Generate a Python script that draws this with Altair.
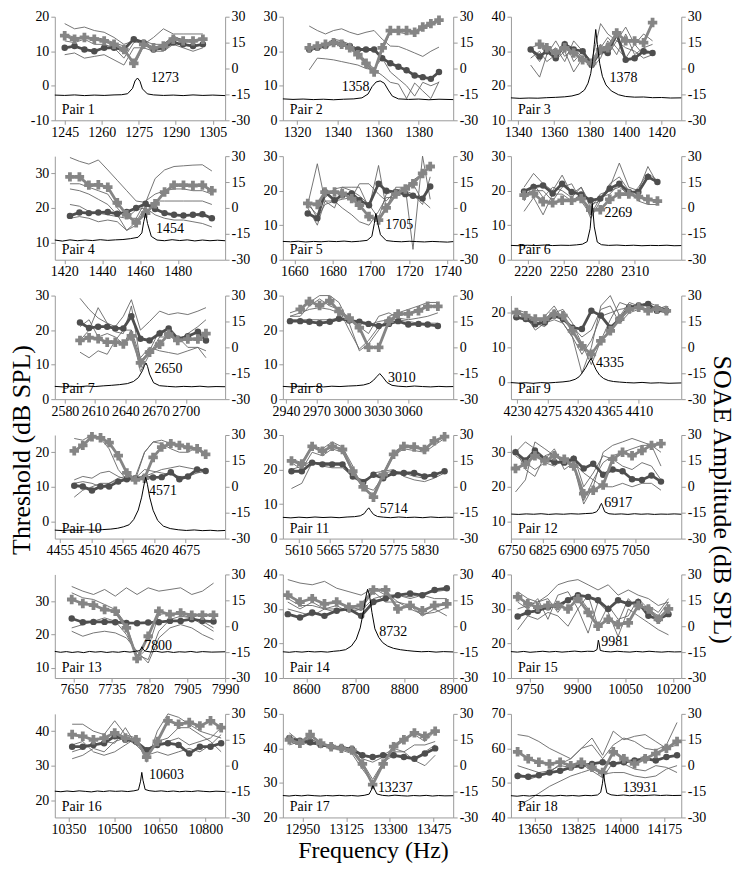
import altair as alt
import pandas as pd

FONT = "Liberation Serif"
W, H = 171, 104
AX = "#9a9a9a"
GREY_C = "#666666"
CIRC_C = "#4e4e4e"
PLUS_C = "#858585"

# ---------------- Pair 1 ----------------
XD1 = [1241, 1310]; XT1 = [1245, 1260, 1275, 1290, 1305]; YD1 = [-10, 20]; YT1 = [-10, 0, 10, 20]
F1 = [1245, 1249, 1253, 1257, 1261, 1265, 1269, 1273, 1277, 1281, 1285, 1289, 1293, 1297, 1301]
C1 = [11, 11.5, 10.5, 10, 11, 11, 10.5, 13.5, 12.5, 10.5, 11, 12.5, 12, 11.5, 12]
P1 = [14.5, 13.5, 14, 13.5, 13, 12, 10.5, 6.5, 12, 11, 11.5, 13.5, 13, 13, 13.5]
G1 = [[18, 16.5, 17, 16, 15.5, 14, 12, 13, 12, 14, 16.5, 15, 15, 15, 15],
      [9, 9.5, 8, 8.5, 9, 7.5, 6, 11, 11, 10, 10, 12, 11, 10, 11],
      [13, 12.5, 13.5, 12, 12, 11, 8, 12.5, 13, 12, 12, 14.5, 13, 12.5, 13.5],
      [15, 14, 14, 14, 13.5, 12.5, 11.5, 5.5, 11.5, 11, 12, 14, 13.5, 13, 14]]
SF1 = [1241, 1245, 1249, 1253, 1257, 1261, 1265, 1268, 1270.5, 1272.5, 1273.5, 1274.5, 1275.5, 1276.5, 1278.5, 1281, 1285, 1289, 1293, 1297, 1301, 1305, 1310]
SA1 = [-15.4, -15.6, -15.3, -15.7, -15.4, -15.6, -15.3, -15.2, -14.6, -11.5, -7.2, -5.5, -7.4, -11.8, -14.7, -15.3, -15.6, -15.4, -15.7, -15.3, -15.6, -15.4, -15.7]
LB1 = [1280, -5.5, "1273"]

# ---------------- Pair 2 ----------------
XD2 = [1313, 1397]; XT2 = [1320, 1340, 1360, 1380]; YD2 = [0, 30]; YT2 = [0, 10, 20, 30]
F2 = [1326, 1330, 1334, 1338, 1342, 1346, 1350, 1354, 1358, 1362, 1366, 1370, 1374, 1378, 1382, 1386, 1390]
C2 = [20.5, 21, 21.5, 22.5, 22, 21.5, 20.5, 20.5, 20.5, 18, 16.5, 15.5, 14.5, 13, 12.5, 12, 14]
P2 = [21, 21.5, 22, 22.5, 22, 21, 19, 16.5, 14, 21, 26, 26, 26, 25.5, 27, 28, 29]
G2 = [[27.3, 26, 25, 26, 26.5, 25.5, 24.8, 25.5, 26, 23.5, 21.5, 21.4, 20.5, 19.5, 18.5, 20, 21.2],
      [14.6, 18, 17.8, 17.5, 17, 16.5, 16, 15, 14.6, 13, 11, 10.5, 6.3, 10.8, 8.5, 6.3, 11.2],
      [21, 21.5, 22, 23.5, 23, 22, 20, 17, 15, 18, 14, 12, 10, 7, 11, 10, 11],
      [20, 21, 22, 23, 22.5, 21.5, 20, 15.5, 14, 20, 25.5, 25.5, 25, 25, 26.5, 27.5, 28.5]]
SF2 = [1313, 1318, 1323, 1328, 1333, 1338, 1343, 1348, 1352, 1355, 1357, 1359, 1361, 1363, 1365, 1367, 1370, 1375, 1380, 1385, 1390, 1397]
SA2 = [-17.6, -17.9, -17.7, -18.0, -17.8, -18.1, -17.8, -17.6, -17.0, -14.8, -10.5, -7.8, -7.2, -8.5, -12.5, -16.0, -17.6, -17.9, -17.7, -18.1, -17.8, -18.0]
LB2 = [1342, -10.5, "1358"]

# ---------------- Pair 3 ----------------
XD3 = [1336, 1431]; XT3 = [1340, 1360, 1380, 1400, 1420]; YD3 = [10, 40]; YT3 = [10, 20, 30, 40]
F3 = [1347, 1352, 1356, 1361, 1366, 1371, 1376, 1381, 1386, 1390, 1395, 1400, 1405, 1410, 1415]
C3 = [30.5, 28.5, 30, 28, 32, 30.5, 30, 26, 30, 29.5, 35, 27.5, 28, 30, 29.5]
P3 = [None, 32, 31, 29.5, 31, 29.5, 27.5, 26.5, 30.5, 31, 35.3, 33, 33, 32.5, 38.3]
G3 = [[26, 22.5, 29, 31, 27, 33, 30, 27, 38, 35, 33, 37, 32, 35, 33],
      [31, 32, 29, 33, 28.5, 31, 28, 25, 28, 33, 29, 35, 29, 31, 32],
      [28, 30, 27, 29, 33, 27, 30, 27, 32, 29, 33, 31, 30, 28, 29],
      [30.5, 27, 31, 27.5, 30, 24, 28, 25.5, 31, 34, 31, 28, 32, 29, 30]]
SF3 = [1336, 1341, 1346, 1351, 1356, 1361, 1366, 1370, 1374, 1377, 1379, 1380.5, 1381.5, 1382.5, 1383.3, 1384.2, 1385.5, 1387, 1389, 1392, 1396, 1400, 1405, 1410, 1415, 1420, 1425, 1431]
SA3 = [-17.0, -17.3, -17.1, -17.2, -16.9, -16.7, -16.4, -15.9, -14.8, -12.5, -8.5, -3.0, 4.0, 14.0, 22.6, 14.0, 3.0, -4.5, -9.5, -13.0, -15.2, -16.2, -16.6, -16.5, -16.9, -16.8, -17.1, -17.0]
LB3 = [1391, -5.6, "1378"]

# ---------------- Pair 4 ----------------
XD4 = [1415, 1505]; XT4 = [1420, 1440, 1460, 1480]; YD4 = [5, 35]; YT4 = [10, 20, 30]
F4 = [1423, 1428, 1433, 1438, 1443, 1448, 1453, 1458, 1463, 1468, 1473, 1478, 1483, 1488, 1493, 1498]
C4 = [17.7, 18.7, 18.5, 18.7, 18.8, 18.3, 18.8, 20, 21.2, 19.7, 18.5, 18, 17.8, 18, 18.2, 17]
P4 = [29, 29, 26.6, 26.7, 26, 21.5, 18, 15.7, 18.5, 21.2, 24.6, 26.6, 26.6, 26.5, 26.6, 25]
G4 = [[34.6, 33.5, 32.7, 33.9, 31, 28, 25, 22, 21.6, 28.5, 31, 32, 32.2, 32.4, 32.5, 30.7],
      [27, 27, 26, 25, 24, 20, 17, 17, 22, 24, 25, 25.5, 25.5, 25, 25, 24],
      [25.5, 25, 24, 22.5, 21, 18, 13.5, 15, 20, 22, 22, 22, 22, 22, 22, 21],
      [21, 20.5, 19, 18.5, 18, 17.5, 17, 19.5, 20, 18, 17, 16.5, 16.5, 16, 15.5, 14.5],
      [17, 17.5, 17, 16, 16.5, 16, 13.5, 16, 20.5, 20, 18.5, 18, 18, 18, 17.5, 17.5]]
SF4 = [1415, 1419, 1423, 1427, 1431, 1435, 1439, 1443, 1447, 1451, 1455, 1459, 1461, 1462, 1463, 1464, 1466, 1469, 1473, 1477, 1481, 1485, 1489, 1493, 1497, 1501, 1505]
SA4 = [-18.6, -19.2, -18.5, -19.0, -18.6, -18.9, -18.4, -18.8, -18.5, -18.3, -17.8, -17.0, -14.5, -8.0, -3.2, -9.0, -16.5, -18.6, -19.0, -18.4, -18.9, -18.5, -19.1, -18.6, -19.0, -18.7, -19.0]
LB4 = [1468.5, -12.4, "1454"]

# ---------------- Pair 5 ----------------
XD5 = [1654, 1743]; XT5 = [1660, 1680, 1700, 1720, 1740]; YD5 = [0, 30]; YT5 = [0, 10, 20, 30]
F5 = [1667, 1672, 1676, 1681, 1685, 1690, 1694, 1699, 1704, 1708, 1713, 1718, 1722, 1727, 1731]
C5 = [13.4, 12, 19.6, 17.2, 18.7, 19.2, 17.2, 15.8, 22, 20, 19.6, 19, 18.5, 17.7, 21.2]
P5 = [16.3, 16, 19.6, 19.6, 19.2, 17.7, 15.8, 12.5, 11.5, 15, 19, 20.5, 22, 25, 27]
G5 = [[16, 27.8, 17, 15, 21, 21, 21, 15, 27.3, 15, 21, 21, 3, 30, 17.5],
      [17, 12, 16, 17, 17.5, 18, 22, 22, 19, 17, 20, 21, 22, 17, 15],
      [15, 10, 17, 17, 15, 13, 11, 10, 14, 18, 18, 21, 23, 25, 27],
      [16, 13, 18, 20.5, 21, 20, 18.5, 16, 12, 19, 20, 20, 19, 16, 24]]
SF5 = [1654, 1658, 1662, 1666, 1670, 1674, 1678, 1682, 1686, 1690, 1694, 1698, 1700.5, 1701.8, 1702.6, 1703.5, 1705, 1708, 1712, 1716, 1720, 1724, 1728, 1732, 1736, 1740, 1743]
SA5 = [-19.4, -19.6, -19.3, -19.7, -19.4, -19.6, -19.3, -19.5, -19.2, -19.6, -19.3, -18.8, -16.5, -9.0, -3.2, -8.5, -15.5, -18.9, -19.4, -19.6, -19.3, -19.5, -19.7, -19.4, -19.6, -19.8, -19.5]
LB5 = [1707.5, -9.9, "1705"]

# ---------------- Pair 6 ----------------
XD6 = [2206, 2349]; XT6 = [2220, 2250, 2280, 2310]; YD6 = [0, 30]; YT6 = [0, 10, 20, 30]
F6 = [2217, 2225, 2233, 2241, 2249, 2257, 2265, 2273, 2281, 2289, 2297, 2305, 2313, 2321, 2329]
C6 = [19.8, 21.1, 21.5, 19.2, 22, 19.6, 18.9, 17.2, 17.7, 20.6, 22, 19.6, 19.6, 24, 22.5]
P6 = [18.7, 19.2, 16.8, 16.5, 17.2, 17.2, 17.7, 14.4, 14.5, 17.5, 19, 19, 18.3, 17.5, 17]
G6 = [[21, 25, 22, 20, 24.5, 19, 21, 16, 17, 21, 28, 21, 20, 27, 22],
      [14, 18, 13, 19, 19, 17, 19, 12, 17, 22, 24, 20, 17, 16, 16],
      [17, 22, 18, 21, 20, 18, 21, 15, 19, 20, 21, 19, 18, 17, 17.5],
      [19, 20, 20, 17, 21, 22, 17, 13, 18, 19, 22, 18, 21, 25, 23]]
SF6 = [2206, 2213, 2220, 2227, 2234, 2241, 2248, 2255, 2261, 2266, 2270, 2272.5, 2274.3, 2276, 2278.5, 2282, 2288, 2295, 2302, 2309, 2316, 2323, 2330, 2337, 2343, 2349]
SA6 = [-21.7, -21.9, -21.6, -21.8, -21.5, -21.8, -21.6, -21.7, -21.4, -21.0, -19.5, -12, 2.6, -11, -19.8, -21.3, -21.7, -21.5, -21.8, -21.6, -21.9, -21.7, -21.8, -21.6, -21.9, -21.8]
LB6 = [2284.5, -3.2, "2269"]

# ---------------- Pair 7 ----------------
XD7 = [2570, 2739]; XT7 = [2580, 2610, 2640, 2670, 2700]; YD7 = [0, 30]; YT7 = [0, 10, 20, 30]
F7 = [2595, 2604, 2613, 2622, 2630, 2638, 2646, 2655, 2664, 2674, 2683, 2692, 2702, 2712, 2720]
C7 = [22.2, 20.6, 21, 21, 20.5, 20.5, 24, 17.5, 17, 19, 20.5, 17.5, 18.2, 19.5, 17]
P7 = [17, 17.8, 17.5, 16.5, 16.5, 16, 18.3, 10.5, 13.6, 15.9, 18.8, 17, 17.4, 17.4, 19]
G7 = [[29.2, 26, 23.5, 22, 21, 24, 28.8, 20, 22.5, 25.5, 24.5, 25, 24.5, 25.5, 26.5],
      [13.6, 12, 14, 13, 17, 20, 20, 12, 15, 14, 13.5, 13, 14, 15, 14],
      [17, 20, 26.5, 22, 19.5, 19, 27, 11, 14, 20, 19, 17, 19, 21, 23],
      [21, 23, 18, 19, 18, 16, 20, 8, 13, 18, 18, 18, 15, 15, 12]]
SF7 = [2570, 2578, 2586, 2594, 2602, 2610, 2618, 2626, 2634, 2642, 2648, 2653, 2657, 2659, 2660.6, 2662, 2664, 2668, 2674, 2682, 2690, 2698, 2706, 2714, 2722, 2730, 2739]
SA7 = [-22.6, -22.9, -22.5, -22.8, -22.4, -22.7, -22.3, -22.0, -21.6, -21.0, -19.8, -17.5, -13.5, -10.5, -9.1, -11.0, -15.5, -20.5, -22.2, -22.6, -22.9, -22.6, -22.8, -22.5, -22.9, -22.7, -22.8]
LB7 = [2669, -12.4, "2650"]

# ---------------- Pair 8 ----------------
XD8 = [2937, 3104]; XT8 = [2940, 2970, 3000, 3030, 3060]; YD8 = [0, 30]; YT8 = [0, 10, 20, 30]
F8 = [2944, 2954, 2963, 2973, 2983, 2992, 3002, 3012, 3021, 3031, 3041, 3050, 3060, 3070, 3079, 3089]
C8 = [22.6, 22.6, 22.4, 22, 22.4, 23.3, 22.8, 22.4, 21.8, 21.2, 21.8, 22.6, 21.6, 21.8, 21.6, 21.2]
P8 = [None, 26, 28.3, 27.1, 28.5, 25.4, 23.5, 20.7, 15, 15, 22.6, 24.7, 24.7, 25.6, 26.9, 26.9]
G8 = [[25, 26, 28, 30, 30, 28, 22, 14, 16, 20, 24, 25, 26, 27, 28, 28],
      [24, 24, 27, 29, 27, 26, 20, 14.5, 17, 21, 22.5, 24, 25, 26, 27, 27],
      [23, 23, 23, 23, 23, 23.5, 23, 22, 21.5, 22.5, 23, 23, 22.5, 22, 22, 22],
      [24, 25, 26, 26.5, 26, 25, 23, 21, 19, 24, 25, 23.5, 23, 23.5, 24, 25]]
SF8 = [2937, 2945, 2953, 2961, 2969, 2977, 2985, 2993, 3001, 3009, 3016, 3022, 3026, 3029, 3032, 3035, 3039, 3044, 3050, 3058, 3066, 3074, 3082, 3090, 3097, 3104]
SA8 = [-22.6, -22.9, -22.5, -22.8, -22.6, -22.9, -22.5, -22.7, -22.4, -22.2, -21.8, -20.8, -19.0, -17.0, -15.2, -17.2, -20.3, -22.0, -22.5, -22.8, -22.4, -22.7, -22.9, -22.6, -22.8, -22.7]
LB8 = [3040, -17.5, "3010"]

# ---------------- Pair 9 ----------------
XD9 = [4221, 4473]; XT9 = [4230, 4275, 4320, 4365, 4410]; YD9 = [-5, 25]; YT9 = [0, 10, 20]
F9 = [4229, 4243, 4257, 4271, 4285, 4298, 4312, 4326, 4340, 4354, 4368, 4382, 4396, 4410, 4424, 4437, 4451]
C9 = [18.7, 18.2, 16.7, 17.2, 19.2, 18.2, 15.7, 15.3, 20.6, 19.2, 15.7, 18.2, 21.6, 22.1, 22.6, 20.6, 20.6]
P9 = [20.1, 19.2, 18.2, 18.2, 19.6, 19.2, 14.8, 10.4, 8, 11.9, 14.8, 18.2, 21.1, 21.6, 20.6, 21.1, 20.6]
G9 = [[20, 19, 17, 18, 21, 17, 13, 2.5, 10, 22, 25, 19, 23, 22, 21, 22, 21],
      [19, 18, 17, 16, 20, 21, 17, 11, 5, 12, 18, 23, 22, 22, 23, 22, 21],
      [21, 20, 16, 19, 22, 18, 16, 13, 15, 21, 22, 17, 20, 21, 21, 22, 21],
      [18, 19, 15, 17, 18, 17, 13, 8, 12, 19, 20, 21, 21.5, 22, 22, 21, 22]]
SF9 = [4221, 4232, 4243, 4254, 4265, 4276, 4287, 4298, 4308, 4316, 4322, 4327, 4332, 4336, 4339.8, 4343, 4347, 4352, 4358, 4365, 4373, 4382, 4392, 4403, 4415, 4428, 4441, 4455, 4473]
SA9 = [-20.4, -20.7, -20.5, -20.8, -20.4, -20.6, -20.3, -20.0, -19.5, -18.5, -17.0, -14.5, -11.5, -8.5, -6.4, -9.5, -13.0, -16.0, -18.0, -19.2, -19.8, -20.1, -20.4, -20.6, -20.3, -20.7, -20.5, -20.8, -20.6]
LB9 = [4347, -9.3, "4335"]

# ---------------- Pair 10 ----------------
XD10 = [4446, 4744]; XT10 = [4455, 4510, 4565, 4620, 4675]; YD10 = [-5, 25]; YT10 = [0, 10, 20]
F10 = [4480, 4495, 4511, 4526, 4541, 4557, 4572, 4587, 4603, 4618, 4633, 4649, 4664, 4679, 4695, 4710]
C10 = [10.3, 10.1, 8.9, 10.1, 10.1, 11.5, 12.2, 12.5, 12.7, 12.7, 12.8, 14.2, 12.2, 13, 15, 14.6]
P10 = [20.4, 22, 24.5, 24.2, 22.8, 19, 14, 12, 12.5, 18.5, 21.5, 22.5, 22, 21.4, 21, 19.4]
G10 = [[24, 23.5, 25, 24, 21, 15, 12, 13, 20, 23, 23.5, 22.5, 22, 21, 21, 20],
       [12, 13, 12.5, 14, 14.5, 13, 12, 12, 20, 23, 22.5, 21, 20, 20, 21.5, 19],
       [7, 9, 10, 11, 11, 12, 12, 12.5, 13, 14, 15, 15.5, 16, 15.5, 15, 15],
       [11, 11.5, 11, 10, 11, 12.5, 13, 12.5, 15, 14.5, 14, 13.5, 13, 13, 14, 14.5]]
SF10 = [4446, 4460, 4474, 4488, 4502, 4516, 4530, 4544, 4556, 4566, 4576, 4584, 4592, 4598, 4602, 4605, 4608, 4612, 4618, 4626, 4636, 4648, 4662, 4676, 4690, 4704, 4718, 4731, 4744]
SA10 = [-25.1, -25.4, -25.0, -25.3, -24.9, -25.2, -24.8, -24.5, -24.0, -23.2, -22.0, -19.0, -13.5, -6, 1, 5.5, 1.5, -6, -13.6, -19.5, -22.8, -24.2, -24.9, -25.3, -25.0, -25.4, -25.2, -25.5, -25.3]
LB10 = [4611, -2.2, "4571"]

# ---------------- Pair 11 ----------------
XD11 = [5583, 5880]; XT11 = [5610, 5665, 5720, 5775, 5830]; YD11 = [0, 30]; YT11 = [0, 10, 20, 30]
F11 = [5598, 5616, 5634, 5652, 5669, 5687, 5705, 5723, 5741, 5758, 5776, 5794, 5812, 5830, 5847, 5865]
C11 = [19.5, 19.5, 22, 21.5, 21.5, 21.5, 18, 16.3, 18.5, 17.5, 19, 19, 19, 18, 18.5, 19.5]
P11 = [22.5, 21.6, 26.7, 25.3, 26.7, 25.8, 19.5, 15, 12, 18.5, 24.4, 26.7, 26.5, 25.8, 28.3, 29.5]
G11 = [[14.5, 16, 22, 22, 22, 22, 18, 17, 18, 19, 19.5, 19, 18, 17.5, 18.5, 19.5],
       [23, 22, 27, 26, 28, 26.5, 21, 14, 13, 19, 25, 27, 27, 26, 28, 30],
       [22, 20, 25, 24, 26, 25, 19, 15, 14, 18, 24, 26, 25.5, 25, 27, 29],
       [20, 21, 22.5, 21, 20.5, 20.5, 18, 16, 19, 19.5, 20, 18, 17, 16.5, 17.5, 19]]
SF11 = [5583, 5597, 5611, 5625, 5639, 5653, 5667, 5681, 5695, 5708, 5718, 5725, 5729, 5732.8, 5736, 5741, 5748, 5758, 5771, 5785, 5799, 5813, 5827, 5841, 5855, 5868, 5880]
SA11 = [-17.7, -18.0, -17.6, -17.9, -17.5, -17.8, -17.6, -17.9, -17.5, -17.3, -16.8, -15.5, -13.6, -12.2, -13.8, -16.0, -17.2, -17.6, -17.9, -17.5, -17.8, -17.6, -17.9, -17.5, -17.8, -17.6, -17.7]
LB11 = [5752, -13.1, "5714"]

# ---------------- Pair 12 ----------------
XD12 = [6749, 7161]; XT12 = [6750, 6825, 6900, 6975, 7050]; YD12 = [5, 35]; YT12 = [10, 20, 30]
F12 = [6760, 6784, 6807, 6831, 6854, 6878, 6901, 6925, 6948, 6972, 6995, 7019, 7042, 7066, 7089, 7112]
C12 = [30, 27.6, 30.5, 28, 27.2, 27, 28.1, 25.3, 26.7, 23.5, 25, 24.5, 22.2, 22, 23.3, 21.5]
P12 = [25.3, 26.5, 29, 27.5, 29, 28, 26, 18, 19, 20.5, 28, 30, 29, 30.5, 32, 32.5]
G12 = [[18.5, 22, 33, 31, 29, 27, 26, 15, 20, 30, 32, 33, 34, 33, 32, 30],
       [30, 33, 31, 28, 31, 25, 27, 16, 22, 27, 29, 30, 31, 32, 32, 26],
       [29, 27, 25, 27, 26, 28, 27, 24, 22, 20, 20, 21, 20, 21, 21, 19],
       [31, 25, 23, 29, 30, 27, 29, 20, 24, 29, 28, 26, 25, 27, 26, 22]]
SF12 = [6750, 6768, 6786, 6804, 6822, 6840, 6858, 6876, 6894, 6912, 6930, 6946, 6956, 6962, 6966, 6968, 6971, 6976, 6986, 7000, 7016, 7032, 7048, 7064, 7080, 7096, 7112, 7128, 7144, 7161]
SA12 = [-15.8, -16.0, -15.7, -15.9, -15.6, -16.0, -15.7, -15.9, -15.6, -15.8, -15.5, -15.3, -14.5, -12.5, -10.3, -9.6, -11.5, -14.5, -15.6, -15.9, -15.7, -16.0, -15.6, -15.9, -15.7, -16.0, -15.8, -15.9, -15.7, -15.9]
LB12 = [6975, -9.6, "6917"]

# ---------------- Pair 13 ----------------
XD13 = [7607, 7990]; XT13 = [7650, 7735, 7820, 7905, 7990]; YD13 = [7, 38]; YT13 = [10, 20, 30]
F13 = [7645, 7670, 7694, 7719, 7743, 7768, 7792, 7817, 7841, 7866, 7890, 7915, 7939, 7964]
C13 = [24.8, 23.7, 23.8, 23.8, 23.7, 23.5, 23.4, 23.6, 23.7, 24.1, 24.1, 24.6, 24.1, 23.9]
P13 = [30.5, 29.3, 28.8, 27.5, 27, 22, 12.8, 19.5, 27, 26, 26.5, 25.8, 25.8, 25.8]
G13 = [[34.4, 33, 32, 33.5, 31.5, 34, 32, 34, 33, 33.5, 34, 32, 33, 35.4],
       [32.5, 31, 30.5, 29, 27.5, 23, 13, 16, 26, 26.5, 26, 25, 24, 22],
       [21, 19.5, 20.5, 21, 20.5, 19, 15, 11.5, 19, 22, 23, 22, 20, 18.5],
       [22, 23, 24, 25, 24, 20, 14, 12.5, 21, 24.5, 25.5, 25, 23, 21]]
SF13 = [7607, 7620, 7633, 7646, 7659, 7672, 7685, 7698, 7711, 7724, 7737, 7750, 7763, 7776, 7789, 7797, 7801, 7803, 7805, 7810, 7822, 7835, 7848, 7861, 7874, 7887, 7900, 7913, 7926, 7939, 7960, 7990]
SA13 = [-14.6, -15.1, -14.7, -15.2, -14.8, -15.3, -14.6, -15.0, -14.7, -15.2, -14.8, -15.1, -14.6, -15.0, -14.5, -14.2, -13.0, -11.9, -13.2, -14.4, -14.9, -14.5, -15.1, -14.7, -15.2, -14.8, -15.0, -14.6, -15.1, -14.7, -15.0, -14.8]
LB13 = [7808, -11.3, "7800"]

# ---------------- Pair 14 ----------------
XD14 = [8552, 8900]; XT14 = [8600, 8700, 8800, 8900]; YD14 = [10, 40]; YT14 = [10, 20, 30, 40]
F14 = [8562, 8587, 8612, 8637, 8662, 8687, 8712, 8737, 8762, 8787, 8812, 8837, 8862, 8887]
C14 = [28.5, 27.5, 29, 28, 29.5, 30, 28, 32, 33, 34, 34.5, 34, 35.5, 36]
P14 = [34, 32, 33, 31.5, 32, 30.5, 31, 35.5, 35.5, 30, 31, 29.5, 31, 31.5]
G14 = [[38.5, 37.5, 37, 38, 36, 35, 34, 36, 34, 34, 33, 34, 33, 33],
       [32, 30, 32, 30, 31, 29, 30, 36, 35, 32, 30, 28.5, 29, 30.5],
       [30, 29, 28, 30, 29, 31, 29.5, 33, 34, 34, 33.5, 34.5, 35, 35.5],
       [33, 31, 31, 30, 30, 30, 30, 35, 32, 32, 31, 28, 30, 28]]
SF14 = [8552, 8565, 8578, 8591, 8604, 8617, 8630, 8643, 8656, 8668, 8680, 8692, 8702, 8710, 8717, 8722, 8725, 8729, 8734, 8740, 8748, 8756, 8766, 8778, 8792, 8806, 8820, 8835, 8850, 8865, 8880, 8900]
SA14 = [-14.8, -15.1, -14.7, -15.0, -14.6, -14.9, -14.7, -15.0, -14.5, -14.2, -13.6, -11.5, -7.5, -1.0, 9.0, 17.5, 21.4, 18.0, 8.0, -1.5, -6.5, -9.5, -11.5, -12.8, -13.6, -14.1, -14.5, -14.8, -14.6, -15.0, -14.7, -14.9]
LB14 = [8749, -3.3, "8732"]

# ---------------- Pair 15 ----------------
XD15 = [9692, 10226]; XT15 = [9750, 9900, 10050, 10200]; YD15 = [10, 40]; YT15 = [10, 20, 30, 40]
F15 = [9713, 9745, 9776, 9808, 9839, 9871, 9902, 9934, 9965, 9997, 10028, 10060, 10091, 10123, 10154, 10186]
C15 = [27.8, 29, 29.5, 30.5, 31, 32.5, 34, 33.5, 32.5, 30, 32.5, 31.5, 32, 28, 27, 28.5]
P15 = [33.5, 31.5, 30.5, 31, 31, 30, 33, 29, 25, 27, 25.5, 26, 31, 30, 27, 30]
G15 = [[35, 33, 32, 34, 37, 38, 38.5, 37, 35.5, 37, 34, 35.5, 34, 33, 31, 32],
       [24, 28, 27, 29, 28, 25, 30, 23, 32, 29, 22, 30, 28, 26, 24, 22.5],
       [32, 30, 33, 27, 34, 35, 30, 34, 25, 31, 27, 28, 33, 30, 28, 32],
       [30, 31, 32, 33, 29, 33, 34, 30, 25, 27, 26, 33, 30, 31, 29, 33]]
SF15 = [9692, 9712, 9732, 9752, 9772, 9792, 9812, 9832, 9852, 9872, 9892, 9912, 9932, 9952, 9962, 9966, 9968, 9972, 9985, 10005, 10025, 10045, 10065, 10085, 10105, 10125, 10145, 10165, 10185, 10205, 10226]
SA15 = [-14.7, -15.0, -14.6, -15.1, -14.8, -14.5, -14.9, -14.6, -15.0, -14.7, -14.4, -14.8, -14.5, -14.6, -13.5, -8.1, -9.5, -14.0, -14.6, -14.9, -14.5, -14.8, -15.0, -14.6, -14.9, -14.5, -14.8, -15.0, -14.7, -14.9, -14.8]
LB15 = [9975, -9.4, "9981"]

# ---------------- Pair 16 ----------------
XD16 = [10305, 10865]; XT16 = [10350, 10500, 10650, 10800]; YD16 = [15, 45]; YT16 = [20, 30, 40]
F16 = [10362, 10397, 10432, 10467, 10502, 10537, 10572, 10607, 10642, 10677, 10712, 10747, 10782, 10817, 10852]
C16 = [35.5, 35.5, 36, 36.5, 38.5, 37.5, 37, 34.5, 36, 36.5, 36, 33.5, 35.5, 35.5, 36.5]
P16 = [39, 38.5, 37.5, 38, 39.5, 38, 37.5, 32.5, 37, 43, 42, 42.5, 41.5, 43, 41]
G16 = [[42, 42, 40, 39, 43, 39, 38, 31, 40, 45, 44, 42, 40, 39, 38],
       [34, 35, 36, 37, 36.5, 41, 36, 35, 36, 37, 38, 36, 37, 38, 41],
       [32, 33, 35, 34, 37, 38, 36, 33, 34, 33, 34, 35, 34, 36, 39],
       [36, 37, 34, 33, 34, 36, 38, 33, 37, 38, 41, 41, 39, 37, 34]]
SF16 = [10305, 10325, 10345, 10365, 10385, 10405, 10425, 10445, 10465, 10485, 10505, 10525, 10545, 10565, 10580, 10587, 10591, 10595, 10602, 10615, 10635, 10655, 10675, 10695, 10715, 10735, 10755, 10775, 10795, 10815, 10835, 10865]
SA16 = [-14.8, -15.1, -14.7, -15.0, -14.6, -14.9, -15.2, -14.7, -15.0, -14.6, -14.9, -14.7, -15.0, -14.6, -14.0, -9.0, -3.9, -8.5, -13.8, -14.5, -14.9, -14.6, -15.0, -14.7, -15.1, -14.8, -15.0, -14.6, -14.9, -15.1, -14.8, -15.0]
LB16 = [10615, -5.2, "10603"]

# ---------------- Pair 17 ----------------
XD17 = [12872, 13553]; XT17 = [12950, 13125, 13300, 13475]; YD17 = [20, 50]; YT17 = [20, 30, 40, 50]
F17 = [12898, 12940, 12981, 13023, 13065, 13106, 13148, 13190, 13231, 13273, 13315, 13356, 13398, 13440, 13481]
C17 = [43, 42.2, 41.8, 41, 40.5, 40.2, 39.8, 38, 37.5, 38, 38, 37.5, 37, 38.5, 40]
P17 = [42.5, 41.5, 44, 41.5, 40.5, 40, 39.5, 35.5, 29.5, 35.5, 40.5, 42.5, 44.5, 43.5, 45]
G17 = [[44.5, 42, 43, 41, 40.5, 40, 39, 36, 31, 36, 41, 43, 44, 42, 45],
       [43, 42, 42, 41, 41, 40, 39, 37, 36, 37.5, 39, 39, 36.5, 35, 38],
       [42, 41, 43, 41, 40, 40, 39, 38, 37, 38, 40, 39, 41, 41, 42],
       [41, 42, 41, 41.5, 40, 39.5, 38.5, 34, 30, 36, 38, 38, 37, 39, 41]]
SF17 = [12872, 12897, 12922, 12947, 12972, 12997, 13022, 13047, 13072, 13097, 13122, 13147, 13172, 13197, 13217, 13226, 13232, 13238, 13248, 13270, 13295, 13320, 13345, 13370, 13395, 13420, 13445, 13470, 13495, 13520, 13553]
SA17 = [-17.3, -17.6, -17.2, -17.5, -17.1, -17.4, -17.6, -17.3, -17.5, -17.2, -17.5, -17.3, -17.6, -17.2, -16.5, -14.0, -11.6, -13.5, -16.4, -17.2, -17.5, -17.1, -17.4, -17.6, -17.3, -17.5, -17.2, -17.6, -17.3, -17.5, -17.4]
LB17 = [13252, -13, "13237"]

# ---------------- Pair 18 ----------------
XD18 = [13555, 14244]; XT18 = [13650, 13825, 14000, 14175]; YD18 = [40, 70]; YT18 = [40, 50, 60, 70]
F18 = [13582, 13625, 13668, 13711, 13754, 13797, 13840, 13883, 13926, 13969, 14012, 14055, 14098, 14141, 14184, 14227]
C18 = [52, 51.8, 52.2, 53, 53.5, 54.5, 55, 55.5, 56, 55.5, 56, 56.5, 57, 56.5, 57.5, 58]
P18 = [59, 57, 56, 55.5, 56, 55, 56, 54.5, 53, 59, 57, 55.5, 57, 58.5, 60, 62]
G18 = [[64, 63.5, 62, 60, 58.5, 57, 60, 63, 58, 65, 62.5, 63.5, 64, 62, 60, 61],
       [53, 51, 52, 53, 55.5, 57, 60, 61, 57, 61, 63, 62, 60, 59.5, 61, 67.5],
       [43.5, 45, 47, 49, 50.5, 52, 53, 54, 52.5, 53, 53, 52, 51.5, 52, 54, 55],
       [55, 54, 53, 53.5, 55, 54.5, 55.5, 53.5, 51.5, 56, 55.5, 54, 53.5, 55, 54.5, 53]]
SF18 = [13555, 13580, 13605, 13630, 13655, 13680, 13705, 13730, 13755, 13780, 13805, 13830, 13855, 13880, 13905, 13918, 13925, 13930, 13935, 13943, 13960, 13985, 14010, 14035, 14060, 14085, 14110, 14135, 14160, 14185, 14210, 14244]
SA18 = [-17.4, -17.7, -17.3, -17.6, -17.2, -17.5, -17.3, -17.6, -17.2, -17.5, -17.3, -17.6, -17.2, -17.4, -17.0, -15.5, -10.5, -4.8, -10.0, -15.8, -16.9, -17.3, -17.0, -17.4, -17.1, -17.4, -17.2, -17.0, -17.3, -17.1, -17.3, -17.2]
LB18 = [14007, -13, "13931"]

PANELS = [
    (1, XD1, XT1, YD1, YT1, F1, C1, P1, G1, SF1, SA1, LB1),
    (2, XD2, XT2, YD2, YT2, F2, C2, P2, G2, SF2, SA2, LB2),
    (3, XD3, XT3, YD3, YT3, F3, C3, P3, G3, SF3, SA3, LB3),
    (4, XD4, XT4, YD4, YT4, F4, C4, P4, G4, SF4, SA4, LB4),
    (5, XD5, XT5, YD5, YT5, F5, C5, P5, G5, SF5, SA5, LB5),
    (6, XD6, XT6, YD6, YT6, F6, C6, P6, G6, SF6, SA6, LB6),
    (7, XD7, XT7, YD7, YT7, F7, C7, P7, G7, SF7, SA7, LB7),
    (8, XD8, XT8, YD8, YT8, F8, C8, P8, G8, SF8, SA8, LB8),
    (9, XD9, XT9, YD9, YT9, F9, C9, P9, G9, SF9, SA9, LB9),
    (10, XD10, XT10, YD10, YT10, F10, C10, P10, G10, SF10, SA10, LB10),
    (11, XD11, XT11, YD11, YT11, F11, C11, P11, G11, SF11, SA11, LB11),
    (12, XD12, XT12, YD12, YT12, F12, C12, P12, G12, SF12, SA12, LB12),
    (13, XD13, XT13, YD13, YT13, F13, C13, P13, G13, SF13, SA13, LB13),
    (14, XD14, XT14, YD14, YT14, F14, C14, P14, G14, SF14, SA14, LB14),
    (15, XD15, XT15, YD15, YT15, F15, C15, P15, G15, SF15, SA15, LB15),
    (16, XD16, XT16, YD16, YT16, F16, C16, P16, G16, SF16, SA16, LB16),
    (17, XD17, XT17, YD17, YT17, F17, C17, P17, G17, SF17, SA17, LB17),
    (18, XD18, XT18, YD18, YT18, F18, C18, P18, G18, SF18, SA18, LB18),
]

# overall titles: (panel number, text, x, y, angle, font size)
TITLES = [
    (10, "Threshold (dB SPL)", -33, 15, 270, 26),
    (12, "SOAE Amplitude (dB SPL)", 212, 65, 90, 26),
    (17, "Frequency (Hz)", 91, 138, 0, 24),
]

LABEL_EXPR = "'' + datum.value"


def series_df(f, vals):
    return pd.DataFrame([{"f": a, "v": b} for a, b in zip(f, vals) if b is not None])


def make_panel(n, xd, xt, yd, yt, f, c, p, g, sf, sa, lb):
    xs = alt.Scale(domain=xd, nice=False, zero=False)
    xax = alt.Axis(values=xt, labelExpr=LABEL_EXPR, title=None, tickSize=4,
                   labelPadding=1, labelFlush=False, labelOverlap=False, grid=False)
    ys = alt.Scale(domain=yd, nice=False, zero=False)
    yax = alt.Axis(values=yt, labelExpr=LABEL_EXPR, title=None, orient="left", tickSize=4,
                   labelPadding=2, labelFlush=False, labelOverlap=False, grid=False)
    rs = alt.Scale(domain=[-30, 30], nice=False, zero=False)
    rax = alt.Axis(values=[-30, -15, 0, 15, 30], labelExpr=LABEL_EXPR, title=None, orient="right",
                   tickSize=4, labelPadding=2, labelFlush=False, labelOverlap=False, grid=False)
    X = alt.X("f:Q", scale=xs, axis=xax)
    Y = alt.Y("v:Q", scale=ys, axis=yax)

    grey_rows = [{"f": a, "v": b, "k": k} for k, line in enumerate(g) for a, b in zip(f, line) if b is not None]
    grey = alt.Chart(pd.DataFrame(grey_rows)).mark_line(color=GREY_C, strokeWidth=0.9).encode(X, Y, detail="k:N")

    cdf = series_df(f, c)
    pdf = series_df(f, p)
    c_line = alt.Chart(cdf).mark_line(color=CIRC_C, strokeWidth=2.8).encode(X, Y)
    c_pts = alt.Chart(cdf).mark_circle(color=CIRC_C, size=42, opacity=1).encode(X, Y)
    p_line = alt.Chart(pdf).mark_line(color=PLUS_C, strokeWidth=2.8).encode(X, Y)
    p_pts = alt.Chart(pdf).mark_point(shape="cross", filled=True, color=PLUS_C, size=90, opacity=1).encode(X, Y)

    pair_txt = alt.Chart(pd.DataFrame({"t": [f"Pair {n}"]})).mark_text(
        align="left", baseline="middle", fontSize=14, color="black"
    ).encode(x=alt.value(7), y=alt.value(H - 10), text="t:N")

    left_layers = [grey, c_line, c_pts, p_line, p_pts, pair_txt]
    for (tn, text, tx, ty, ang, fs) in TITLES:
        if tn == n:
            left_layers.append(
                alt.Chart(pd.DataFrame({"t": [text]})).mark_text(
                    align="center", baseline="middle", fontSize=fs, angle=ang, color="black"
                ).encode(x=alt.value(tx), y=alt.value(ty), text="t:N")
            )

    sdf = pd.DataFrame({"f": sf, "a": sa})
    R = alt.Y("a:Q", scale=rs, axis=rax)
    spec = alt.Chart(sdf).mark_line(color="black", strokeWidth=1).encode(X, R)
    ldf = pd.DataFrame({"f": [lb[0]], "a": [lb[1]], "t": [lb[2]]})
    peak_txt = alt.Chart(ldf).mark_text(align="left", baseline="middle", fontSize=14, color="black").encode(
        X, R, text="t:N")

    left = alt.layer(*left_layers)
    right = alt.layer(spec, peak_txt)
    return alt.layer(left, right).resolve_scale(y="independent").properties(width=W, height=H)


panels = [make_panel(*args) for args in PANELS]

chart = alt.concat(
    *panels, columns=3, spacing={"row": 36, "column": 58}, bounds="flush"
).properties(
    padding={"left": 0, "top": 0, "right": 6, "bottom": 0}
).configure_view(
    stroke=None
).configure_axis(
    labelFont=FONT, labelFontSize=14, labelColor="black",
    domainColor=AX, tickColor=AX, grid=False
).configure_text(
    font=FONT
)

chart.save("out.html", embed_options={"renderer": "svg", "actions": False})
